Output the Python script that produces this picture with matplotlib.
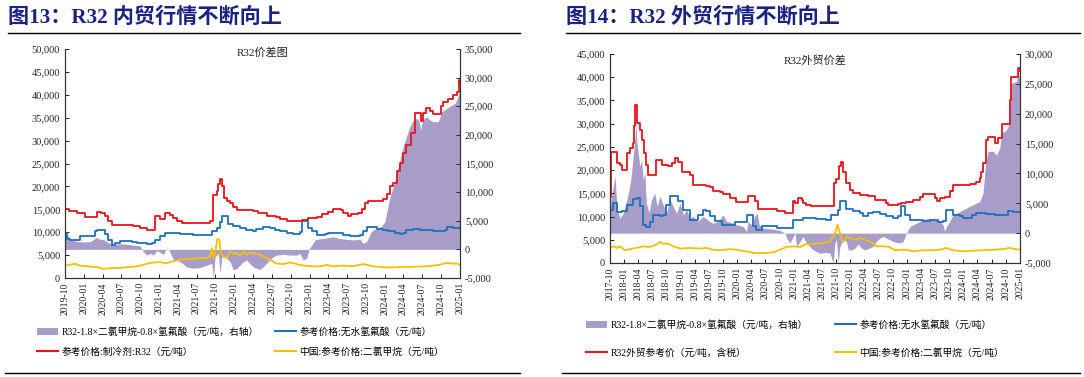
import pandas as pd
import numpy as np
import matplotlib
matplotlib.use('Agg')
import matplotlib.pyplot as plt
import matplotlib.dates as mdates
from matplotlib.lines import Line2D
from matplotlib.patches import Patch

plt.rcParams['font.family'] = ['Liberation Serif', 'Noto Sans CJK SC']
plt.rcParams['axes.unicode_minus'] = False

# ---------------- 图13 内贸 ----------------
# 参考价格:制冷剂:R32（元/吨）
r32_dn_dates = ['2019-10-01', '2019-10-20', '2019-11-27', '2020-01-07', '2020-03-03', '2020-03-25',
                '2020-04-12', '2020-04-28', '2020-05-15', '2020-08-28', '2020-09-30', '2020-11-02',
                '2020-12-12', '2021-01-06', '2021-01-31', '2021-02-24', '2021-03-10', '2021-03-26',
                '2021-04-20', '2021-08-19', '2021-09-05', '2021-09-21', '2021-10-07', '2021-10-15',
                '2021-10-23', '2021-11-01', '2021-11-10', '2021-11-24', '2021-12-11', '2021-12-27',
                '2022-01-13', '2022-04-02', '2022-04-26', '2022-06-06', '2022-07-24', '2022-08-10',
                '2022-09-12', '2022-11-24', '2022-12-26', '2023-02-05', '2023-03-01', '2023-04-01',
                '2023-04-26', '2023-06-05', '2023-06-13', '2023-07-07', '2023-07-23', '2023-08-25',
                '2023-09-11', '2023-09-27', '2023-10-13', '2023-12-25', '2024-01-10', '2024-01-27',
                '2024-02-12', '2024-02-29', '2024-03-15', '2024-03-31', '2024-04-16', '2024-05-10',
                '2024-05-26', '2024-06-24', '2024-07-03', '2024-07-22', '2024-08-08', '2024-08-24',
                '2024-09-30', '2024-10-12', '2024-11-06', '2024-11-30', '2024-12-19', '2024-12-26',
                '2025-01-01']
r32_dn = [15000, 14600, 14200, 13400, 14500, 14200,
          13600, 12400, 11600, 11300, 10900, 10500,
          13500, 12800, 14200, 13800, 13100, 12400,
          12100, 12000, 12400, 18200, 19000, 20500,
          21600, 20000, 17500, 16900, 16300, 15600,
          14900, 14700, 14200, 13500, 13300, 12800,
          12500, 12700, 13100, 13400, 13900, 14400,
          15100, 14800, 14100, 13500, 14000, 14300,
          15000, 16300, 16900, 17300, 18300, 20000,
          20700, 23300, 25100, 27300, 29100, 31700,
          36000, 34200, 36000, 37100, 36400, 35700,
          37500, 38400, 39000, 40000, 40700, 43300,
          42500]

# 参考价格:无水氢氟酸（元/吨）
hf_dn_dates = ['2019-10-01', '2019-10-09', '2019-10-25', '2019-12-13', '2020-01-31', '2020-02-24',
               '2020-03-03', '2020-03-27', '2020-04-12', '2020-04-28', '2020-05-15', '2020-05-30',
               '2020-06-24', '2020-07-18', '2020-08-20', '2020-09-14', '2020-11-02', '2020-11-26',
               '2020-12-12', '2021-01-06', '2021-01-31', '2021-04-11', '2021-06-15', '2021-08-19',
               '2021-09-13', '2021-10-07', '2021-10-23', '2021-11-01', '2021-11-24', '2021-12-03',
               '2021-12-27', '2022-01-28', '2022-02-28', '2022-04-02', '2022-04-18', '2022-05-20',
               '2022-06-22', '2022-07-16', '2022-08-10', '2022-09-12', '2022-10-14', '2022-11-15',
               '2022-11-24', '2022-12-18', '2022-12-26', '2023-01-12', '2023-02-05', '2023-03-16',
               '2023-04-01', '2023-05-11', '2023-06-13', '2023-07-15', '2023-08-17', '2023-09-03',
               '2023-09-19', '2023-10-05', '2023-11-23', '2023-12-25', '2024-01-19', '2024-02-20',
               '2024-03-15', '2024-03-31', '2024-04-16', '2024-05-19', '2024-06-21', '2024-07-22',
               '2024-08-24', '2024-09-26', '2024-10-20', '2024-10-28', '2024-11-30', '2025-01-01']
hf_dn = [9800, 8500, 8400, 9100, 9200, 10200,
         10550, 10500, 9500, 8400, 7300, 7650,
         8150, 8150, 7800, 7650, 7500, 7650,
         8400, 9100, 9800, 9700, 9450, 9450,
         10200, 10900, 12150, 13450, 13450, 11850,
         11300, 11000, 10550, 10350, 10700, 11050,
         10900, 10550, 10350, 9800, 9600, 9950,
         12400, 12400, 10900, 10200, 9450, 9700,
         9800, 9800, 9450, 9250, 9100, 9450,
         10200, 11100, 10700, 10550, 10200, 9800,
         9600, 9800, 10550, 10750, 10550, 10400,
         10200, 10350, 10550, 11150, 10900, 10750]

# 中国:参考价格:二氯甲烷（元/吨）
dcm_dn_dates = ['2019-10-01', '2019-10-25', '2019-11-19', '2019-12-13', '2020-01-14', '2020-03-03',
                '2020-04-04', '2020-05-06', '2020-06-24', '2020-07-26', '2020-09-14', '2020-10-16',
                '2020-11-18', '2021-01-06', '2021-01-31', '2021-03-10', '2021-04-11', '2021-05-13',
                '2021-07-17', '2021-08-19', '2021-09-05', '2021-09-13', '2021-09-21', '2021-09-29',
                '2021-10-10', '2021-10-20', '2021-10-26', '2021-11-08', '2021-11-24', '2021-12-11',
                '2021-12-27', '2022-01-13', '2022-01-28', '2022-02-14', '2022-02-28', '2022-03-16',
                '2022-04-02', '2022-05-04', '2022-06-06', '2022-06-30', '2022-07-24', '2022-08-26',
                '2022-09-28', '2022-10-14', '2022-11-15', '2023-01-04', '2023-02-21', '2023-03-24',
                '2023-04-26', '2023-06-13', '2023-08-01', '2023-09-19', '2023-10-05', '2023-11-07',
                '2023-12-09', '2024-01-27', '2024-03-15', '2024-05-19', '2024-07-22', '2024-08-24',
                '2024-09-26', '2024-10-28', '2024-11-30', '2024-12-16', '2025-01-01']
dcm_dn = [2700, 2900, 3100, 2700, 2550, 2400,
          2000, 2150, 2200, 2350, 2550, 2900,
          3300, 3500, 3200, 3650, 4000, 4150,
          4300, 4350, 4600, 6550, 4350, 5400,
          8500, 8400, 5450, 4750, 4350, 5800,
          5300, 5450, 4900, 5800, 5100, 5600,
          5450, 5100, 4350, 3800, 3150, 3050,
          3400, 3250, 2850, 2550, 2550, 2850,
          2550, 2700, 2550, 3050, 2900, 2550,
          2400, 2300, 2400, 2450, 2550, 2700,
          2900, 3300, 3150, 3150, 2850]

# R32-1.8×二氯甲烷-0.8×氢氟酸（元/吨，右轴）
spread_dn_dates = ['2019-10-01', '2019-10-09', '2019-10-25', '2019-11-11', '2019-11-27', '2019-12-29',
                   '2020-01-31', '2020-03-03', '2020-03-19', '2020-04-04', '2020-04-20', '2020-05-06',
                   '2020-06-08', '2020-07-10', '2020-08-28', '2020-09-30', '2020-10-16', '2020-11-02',
                   '2020-11-18', '2020-12-04', '2020-12-18', '2021-01-02', '2021-01-13', '2021-01-22',
                   '2021-02-04', '2021-02-16', '2021-02-24', '2021-03-10', '2021-03-26', '2021-04-20',
                   '2021-05-13', '2021-06-15', '2021-07-17', '2021-08-19', '2021-09-13', '2021-09-21',
                   '2021-09-29', '2021-10-07', '2021-10-15', '2021-10-23', '2021-11-01', '2021-11-17',
                   '2021-12-11', '2021-12-27', '2022-01-13', '2022-01-28', '2022-02-14', '2022-02-28',
                   '2022-03-16', '2022-04-02', '2022-04-18', '2022-05-04', '2022-05-20', '2022-06-06',
                   '2022-06-22', '2022-07-08', '2022-07-24', '2022-08-26', '2022-09-28', '2022-10-30',
                   '2022-11-15', '2022-12-01', '2022-12-18', '2022-12-31', '2023-01-12', '2023-01-28',
                   '2023-02-12', '2023-03-07', '2023-04-10', '2023-04-26', '2023-05-28', '2023-06-30',
                   '2023-08-01', '2023-09-03', '2023-09-19', '2023-10-05', '2023-10-28', '2023-11-22',
                   '2023-12-16', '2024-01-02', '2024-01-10', '2024-01-27', '2024-02-12', '2024-02-29',
                   '2024-03-15', '2024-03-31', '2024-04-16', '2024-05-02', '2024-05-19', '2024-06-04',
                   '2024-06-17', '2024-06-24', '2024-07-03', '2024-07-22', '2024-08-08', '2024-08-24',
                   '2024-09-18', '2024-10-04', '2024-10-28', '2024-11-22', '2024-12-08', '2024-12-19',
                   '2024-12-28', '2025-01-01']
spread_dn = [2900, 2800, 1900, 1600, 1350, 1300,
             1350, 2100, 1750, 1750, 1350, 1050,
             950, 950, 750, 600, -400, -1000,
             -700, -1000, -250, -400, -700, -850,
             150, 0, -700, -1750, -1850, -2350,
             -3050, -3300, -3200, -2750, -2450, -5000,
             -1300, -1000, -700, -4200, -1300, -1300,
             -2150, -3600, -3300, -2750, -2150, -1850,
             -2450, -3050, -3300, -3500, -3050, -2450,
             -1850, -1300, -1000, -850, -1000, -1000,
             -700, -1850, -1550, 150, 750, 1650,
             1800, 1900, 2100, 2200, 1900, 1750,
             1650, 1750, 1050, 1350, 3100, 3700,
             4000, 4850, 6300, 9200, 10950, 13300,
             15600, 17950, 19700, 21400, 22600, 22900,
             22300, 20850, 22600, 23150, 22600, 22300,
             22300, 24050, 24600, 25200, 25500, 26350,
             27500, 26900]

# ---------------- 图14 外贸 ----------------
# R32外贸参考价（元/吨，含税）
r32_ex_dates = ['2017-10-01', '2017-10-07', '2017-11-17', '2017-12-04', '2017-12-15', '2018-01-12',
                '2018-01-21', '2018-02-08', '2018-02-24', '2018-03-04', '2018-03-14', '2018-03-25',
                '2018-04-12', '2018-04-23', '2018-05-07', '2018-05-20', '2018-06-05', '2018-07-24',
                '2018-08-19', '2018-08-30', '2018-10-12', '2018-11-03', '2018-11-25', '2018-12-16',
                '2019-01-07', '2019-02-09', '2019-03-01', '2019-03-22', '2019-06-16', '2019-07-07',
                '2019-07-29', '2019-09-11', '2019-10-02', '2019-11-15', '2019-12-27', '2020-03-11',
                '2020-04-02', '2020-04-23', '2020-05-15', '2020-08-20', '2020-09-11', '2020-10-13',
                '2020-11-04', '2020-12-24', '2021-01-08', '2021-01-30', '2021-02-20', '2021-03-01',
                '2021-03-23', '2021-04-24', '2021-09-16', '2021-10-03', '2021-10-20', '2021-11-01',
                '2021-11-16', '2021-12-03', '2021-12-29', '2022-01-20', '2022-03-02', '2022-04-25',
                '2022-06-07', '2022-08-22', '2022-09-02', '2022-11-06', '2022-11-27', '2022-12-29',
                '2023-02-11', '2023-03-24', '2023-04-15', '2023-06-29', '2023-07-14', '2023-08-01',
                '2023-09-02', '2023-10-05', '2023-10-26', '2024-02-12', '2024-03-25', '2024-04-16',
                '2024-04-26', '2024-05-07', '2024-05-24', '2024-06-09', '2024-07-22', '2024-08-13',
                '2024-09-04', '2024-10-27', '2024-11-07', '2024-12-20', '2025-01-01']
r32_ex = [14300, 24000, 21500, 21000, 20100, 20100,
          23700, 24800, 25900, 29400, 34000, 30100,
          28700, 26500, 23700, 21200, 19000, 22100,
          22100, 21000, 20900, 21500, 22600, 21700,
          19700, 19500, 19000, 16900, 16650, 16350,
          15400, 15200, 14900, 14000, 13100, 14400,
          14500, 13300, 11600, 11600, 11300, 11100,
          10800, 13300, 12900, 14000, 13600, 12900,
          12400, 12200, 17200, 18000, 20800, 21700,
          19700, 17200, 15800, 15100, 14700, 14350,
          13600, 12900, 12400, 12600, 12900, 13100,
          13600, 14300, 14900, 14000, 13300, 14000,
          14300, 15400, 16700, 17000, 17400, 18300,
          19700, 21500, 26500, 27100, 25800, 26900,
          29900, 35200, 40000, 42000, 41300]

# 参考价格:无水氢氟酸（元/吨）
hf_ex_dates = ['2017-10-01', '2017-10-18', '2017-11-03', '2017-11-17', '2017-12-15', '2018-01-17',
               '2018-02-28', '2018-03-25', '2018-04-12', '2018-04-29', '2018-05-24', '2018-06-15',
               '2018-07-06', '2018-08-19', '2018-09-10', '2018-09-27', '2018-10-23', '2018-11-25',
               '2018-12-16', '2019-01-18', '2019-03-01', '2019-04-02', '2019-04-23', '2019-05-25',
               '2019-06-16', '2019-07-07', '2019-08-09', '2019-09-22', '2019-11-25', '2019-12-17',
               '2020-02-09', '2020-03-01', '2020-03-27', '2020-04-13', '2020-05-04', '2020-06-06',
               '2020-07-30', '2020-09-11', '2020-11-15', '2020-12-28', '2021-03-01', '2021-05-27',
               '2021-07-30', '2021-09-01', '2021-10-14', '2021-10-29', '2021-11-20', '2021-12-03',
               '2022-01-20', '2022-03-02', '2022-03-24', '2022-04-25', '2022-05-27', '2022-07-09',
               '2022-08-22', '2022-10-04', '2022-11-06', '2022-11-21', '2022-12-08', '2022-12-19',
               '2023-01-21', '2023-03-03', '2023-04-15', '2023-05-28', '2023-07-21', '2023-08-23',
               '2023-09-14', '2023-10-05', '2023-10-26', '2023-12-09', '2023-12-30', '2024-02-01',
               '2024-02-23', '2024-03-25', '2024-05-29', '2024-07-22', '2024-09-25', '2024-10-16',
               '2024-11-18', '2025-01-01']
hf_ex = [11500, 12900, 13000, 10900, 11300, 12500,
         13800, 13900, 12200, 8150, 7800, 8850,
         10400, 10200, 10400, 12550, 14500, 14500,
         13300, 11500, 9350, 9350, 10400, 11350,
         11150, 10050, 9000, 8250, 8250, 8750,
         8850, 10400, 10250, 7900, 7200, 7900,
         7900, 7550, 7550, 9350, 9700, 9550,
         9350, 10400, 11350, 13400, 13400, 11700,
         11300, 10750, 10050, 10750, 10900, 10600,
         10050, 9700, 10200, 12200, 12200, 10400,
         9350, 9350, 9000, 9200, 8800, 9000,
         11500, 11500, 10400, 10050, 9750, 9750,
         10400, 10750, 10550, 10250, 10250, 11300,
         11000, 10900]

# 中国:参考价格:二氯甲烷（元/吨）
dcm_ex_dates = ['2017-10-01', '2017-10-22', '2017-11-13', '2017-12-04', '2018-01-06', '2018-02-08',
                '2018-03-21', '2018-05-03', '2018-06-15', '2018-07-28', '2018-08-19', '2018-09-10',
                '2018-10-12', '2018-11-14', '2018-12-27', '2019-03-01', '2019-05-04', '2019-06-16',
                '2019-07-29', '2019-09-22', '2019-11-15', '2019-12-27', '2020-03-01', '2020-04-23',
                '2020-07-08', '2020-08-20', '2020-10-03', '2020-11-15', '2020-12-28', '2021-02-10',
                '2021-03-23', '2021-05-05', '2021-07-09', '2021-08-22', '2021-09-12', '2021-09-29',
                '2021-10-10', '2021-10-20', '2021-11-05', '2021-11-20', '2021-12-07', '2021-12-29',
                '2022-01-31', '2022-03-02', '2022-04-04', '2022-05-06', '2022-05-27', '2022-06-18',
                '2022-07-31', '2022-09-13', '2022-10-15', '2022-12-29', '2023-02-11', '2023-04-15',
                '2023-06-19', '2023-08-01', '2023-09-14', '2023-10-26', '2023-12-30', '2024-03-03',
                '2024-05-07', '2024-07-11', '2024-09-14', '2024-10-27', '2024-11-29', '2025-01-01']
dcm_ex = [3250, 3600, 3250, 3600, 2750, 3000,
          3250, 3600, 3450, 3950, 4500, 4150,
          4150, 3600, 3100, 3250, 3100, 3250,
          2850, 2750, 3000, 2850, 2500, 2150,
          2150, 2300, 2850, 3450, 3600, 3450,
          4100, 4100, 4250, 4650, 5750, 6800,
          8250, 7200, 5000, 4650, 5750, 5400,
          5000, 5400, 5000, 4650, 4100, 3600,
          3600, 3450, 2750, 2850, 2500, 2750,
          2750, 2850, 3250, 2750, 2500, 2650,
          2750, 2850, 3000, 3250, 3000, 2850]

# R32-1.8×二氯甲烷-0.8×氢氟酸（元/吨，右轴）
spread_ex_dates = ['2017-10-01', '2017-10-07', '2017-10-22', '2017-11-03', '2017-11-09', '2017-11-17',
                   '2017-12-04', '2017-12-26', '2018-01-12', '2018-01-28', '2018-02-12', '2018-02-28',
                   '2018-03-10', '2018-03-17', '2018-03-25', '2018-04-12', '2018-04-23', '2018-05-03',
                   '2018-05-14', '2018-05-24', '2018-06-11', '2018-06-26', '2018-07-17', '2018-08-02',
                   '2018-08-19', '2018-09-10', '2018-10-01', '2018-10-23', '2018-11-14', '2018-12-05',
                   '2018-12-27', '2019-01-18', '2019-02-09', '2019-03-01', '2019-03-22', '2019-04-23',
                   '2019-05-25', '2019-06-16', '2019-07-07', '2019-07-29', '2019-08-31', '2019-10-02',
                   '2019-10-24', '2019-11-25', '2019-12-27', '2020-02-09', '2020-03-01', '2020-03-11',
                   '2020-04-02', '2020-04-23', '2020-05-09', '2020-05-22', '2020-06-17', '2020-08-20',
                   '2020-10-03', '2020-11-04', '2020-11-15', '2020-12-06', '2020-12-28', '2021-01-08',
                   '2021-01-19', '2021-02-10', '2021-03-01', '2021-03-23', '2021-05-05', '2021-06-17',
                   '2021-07-30', '2021-08-22', '2021-09-12', '2021-09-23', '2021-10-03', '2021-10-14',
                   '2021-10-25', '2021-11-16', '2021-12-07', '2021-12-18', '2022-01-09', '2022-01-31',
                   '2022-02-21', '2022-03-13', '2022-04-04', '2022-05-06', '2022-05-27', '2022-06-18',
                   '2022-07-09', '2022-07-31', '2022-08-22', '2022-09-13', '2022-10-04', '2022-11-16',
                   '2022-12-08', '2022-12-29', '2023-01-21', '2023-03-03', '2023-04-15', '2023-05-28',
                   '2023-07-10', '2023-08-01', '2023-08-23', '2023-09-02', '2023-09-14', '2023-10-05',
                   '2023-10-26', '2023-12-09', '2024-01-21', '2024-03-03', '2024-04-16', '2024-05-07',
                   '2024-05-24', '2024-06-09', '2024-07-11', '2024-08-02', '2024-08-23', '2024-09-04',
                   '2024-10-05', '2024-10-16', '2024-10-27', '2024-11-07', '2024-12-09', '2024-12-20',
                   '2025-01-01']
spread_ex = [2250, 5600, 7800, 9500, 6700, 3900,
             2500, 3350, 5000, 6700, 8950, 12800,
             15600, 18000, 15000, 11150, 12300, 8950,
             10050, 5000, 3350, 5600, 6700, 4450,
             6150, 4750, 3350, 5600, 4450, 3350,
             5000, 3050, 3900, 2500, 2800, 1950,
             2800, 2400, 1950, 1650, 1950, 3050,
             1950, 1800, 1400, 1100, 300, 1950,
             1400, 2800, 3350, 1400, 850, 650,
             450, 0, -850, -1650, -550, 0,
             -2250, -1400, -550, -1650, -2800, -3350,
             -3250, -3350, -5000, -1650, -1100, -5000,
             -2250, -1100, -1400, -2800, -2800, -2500,
             -1800, -2500, -2800, -2500, -2250, -1400,
             -850, -550, -850, -1100, -1400, -1650,
             -1400, 0, 1100, 1650, 2250, 2500,
             2250, 1950, 1400, 300, 1100, 1950,
             3050, 3600, 4200, 4750, 5300, 6700,
             11700, 13700, 13700, 13100, 14250, 16750,
             17300, 17850, 21200, 25100, 25400, 26800,
             25900]

PURPLE = '#a89cc8'
RED = '#e8141b'
BLUE = '#1f70b8'
YELLOW = '#f6c000'
NAVY = '#1a2180'

fig = plt.figure(figsize=(10.84, 3.77), dpi=100)


def draw_panel(rect, d_spread, spread, d_r32, r32, d_hf, hf, d_dcm, dcm,
               ylim_l, ylim_r, xlim, subtitle, sub_y):
    ax = fig.add_axes(rect)
    ax2 = ax.twinx()
    # 价差面积放在后面
    ax.set_zorder(ax2.get_zorder() + 1)
    ax.patch.set_visible(False)

    ds = pd.to_datetime(d_spread)
    ax2.fill_between(ds, 0, spread, color=PURPLE, linewidth=0)
    ax.plot(pd.to_datetime(d_hf), hf, color=BLUE, lw=1.3, drawstyle='steps-post')
    ax.plot(pd.to_datetime(d_dcm), dcm, color=YELLOW, lw=1.3)
    ax.plot(pd.to_datetime(d_r32), r32, color=RED, lw=1.3, drawstyle='steps-post')

    ax.set_xlim(pd.Timestamp(xlim[0]), pd.Timestamp(xlim[1]))
    ax.set_ylim(*ylim_l)
    ax2.set_ylim(*ylim_r)
    ax.set_yticks(np.arange(ylim_l[0], ylim_l[1] + 1, 5000))
    ax2.set_yticks(np.arange(ylim_r[0], ylim_r[1] + 1, 5000))
    fmt = matplotlib.ticker.FuncFormatter(lambda v, p: f'{int(v):,}')
    ax.yaxis.set_major_formatter(fmt)
    ax2.yaxis.set_major_formatter(fmt)

    ax.xaxis.set_major_locator(mdates.MonthLocator(bymonth=[1, 4, 7, 10]))
    ax.xaxis.set_major_formatter(mdates.DateFormatter('%Y-%m'))
    for lab in ax.get_xticklabels():
        lab.set_rotation(90)

    for a in (ax, ax2):
        a.spines['top'].set_visible(False)
        for s in a.spines.values():
            s.set_color('#333333')
            s.set_linewidth(0.8)
        a.tick_params(direction='in', length=3, width=0.7, labelsize=7.5, colors='#222222')
    ax.tick_params(axis='x', labelsize=7, pad=3)
    ax.text(0.5, sub_y, subtitle, transform=ax.transAxes, ha='center', va='top',
            fontsize=8, color='#222222')
    return ax


draw_panel([65 / 1084, 1 - 278 / 377, 395 / 1084, 229 / 377],
           spread_dn_dates, spread_dn, r32_dn_dates, r32_dn, hf_dn_dates, hf_dn,
           dcm_dn_dates, dcm_dn, (0, 50000), (-5000, 35000),
           ('2019-10-01', '2025-01-01'), 'R32价差图', 1.005)
draw_panel([610 / 1084, 1 - 263 / 377, 410 / 1084, 209 / 377],
           spread_ex_dates, spread_ex, r32_ex_dates, r32_ex, hf_ex_dates, hf_ex,
           dcm_ex_dates, dcm_ex, (0, 45000), (-5000, 30000),
           ('2017-10-01', '2025-01-01'), 'R32外贸价差', 0.995)

# 标题与分隔线
fig.text(8 / 1084, 1 - 18 / 377, '图13：R32 内贸行情不断向上', fontsize=15.2,
         fontweight='bold', color=NAVY, va='center', ha='left')
fig.text(566 / 1084, 1 - 18 / 377, '图14：R32 外贸行情不断向上', fontsize=15.2,
         fontweight='bold', color=NAVY, va='center', ha='left')
for x0, x1 in [(8, 520), (566, 1080)]:
    fig.add_artist(Line2D([x0 / 1084, x1 / 1084], [1 - 33 / 377] * 2,
                          transform=fig.transFigure, color='black', lw=1.0))
for x0, x1 in [(5, 520), (562, 1080)]:
    fig.add_artist(Line2D([x0 / 1084, x1 / 1084], [1 - 373 / 377] * 2,
                          transform=fig.transFigure, color='black', lw=1.0))

# 图例
h_spread = Patch(facecolor=PURPLE, edgecolor='none', label='R32-1.8×二氯甲烷-0.8×氢氟酸（元/吨，右轴）')
h_hf = Line2D([], [], color=BLUE, lw=1.5, label='参考价格:无水氢氟酸（元/吨）')
h_dcm = Line2D([], [], color=YELLOW, lw=1.5, label='中国:参考价格:二氯甲烷（元/吨）')
h_r32_dn = Line2D([], [], color=RED, lw=1.5, label='参考价格:制冷剂:R32（元/吨）')
h_r32_ex = Line2D([], [], color=RED, lw=1.5, label='R32外贸参考价（元/吨，含税）')

leg_kw = dict(frameon=False, fontsize=7, handlelength=2.2, handleheight=0.8,
              handletextpad=0.3, borderpad=0, borderaxespad=0, loc='upper left')
fig.legend(handles=[h_spread, h_r32_dn], bbox_to_anchor=(37 / 1084, 1 - 327 / 377),
           labelspacing=1.05, **leg_kw)
fig.legend(handles=[h_hf, h_dcm], bbox_to_anchor=(275 / 1084, 1 - 327 / 377),
           labelspacing=1.05, **leg_kw)
fig.legend(handles=[h_spread, h_r32_ex], bbox_to_anchor=(586 / 1084, 1 - 320 / 377),
           labelspacing=1.85, **leg_kw)
fig.legend(handles=[h_hf, h_dcm], bbox_to_anchor=(835 / 1084, 1 - 320 / 377),
           labelspacing=1.85, **leg_kw)

fig.savefig('out.png', dpi=100)
